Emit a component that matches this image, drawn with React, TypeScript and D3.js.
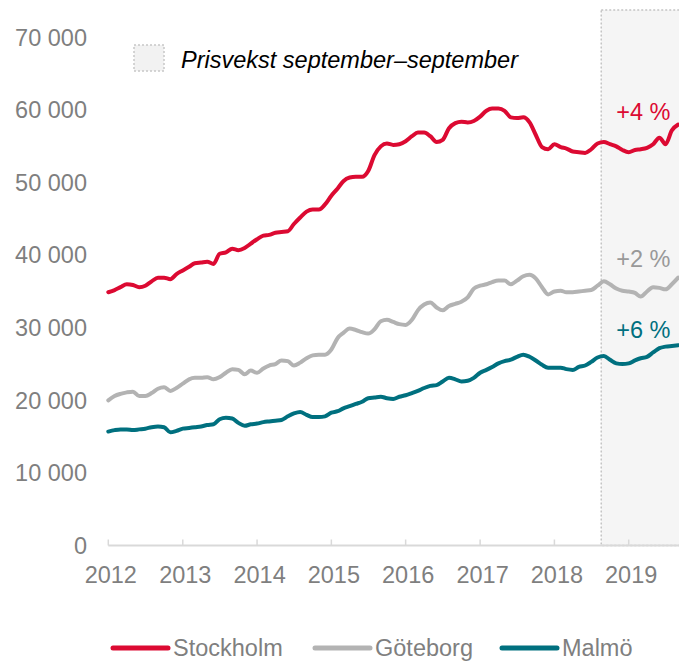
import React from 'react';
import * as d3 from 'd3';

// Kvadratmeterpris bostadsrätter, monthly Jan 2012 – Sep 2019 (kr/m²)
const stockholm = [
  34900, 35200, 35600, 36000, 35900, 35600, 35800, 36400, 36900, 36900, 36700, 37400,
  37900, 38400, 38900, 39000, 39100, 38800, 40200, 40400, 40900, 40700, 41000, 41600,
  42200, 42700, 42800, 43100, 43200, 43300, 44300, 45200, 46000, 46300, 46300, 47000,
  48200, 49200, 50200, 50700, 50800, 50800, 51600, 53800, 55000, 55400, 55200, 55300,
  55700, 56400, 56900, 56900, 56400, 55600, 55900, 57500, 58200, 58400, 58300, 58500,
  59100, 59900, 60200, 60200, 59900, 59000, 58900, 59000, 58300, 56600, 54900, 54600,
  55300, 54900, 54700, 54300, 54200, 54100, 54600, 55400, 55600, 55300, 55000, 54500,
  54200, 54500, 54600, 54800, 55300, 56200, 55300, 57200, 58000,
];
const goteborg = [
  20000, 20600, 20900, 21100, 21200, 20600, 20600, 21000, 21600, 21800, 21300, 21700,
  22300, 22900, 23100, 23100, 23200, 22900, 23200, 23800, 24300, 24200, 23600, 24100,
  23800, 24400, 24800, 25000, 25500, 25400, 24800, 25200, 25800, 26200, 26300, 26300,
  27000, 28600, 29300, 29900, 29700, 29400, 29200, 29800, 30900, 31100, 30800, 30500,
  30400, 31100, 32400, 33200, 33500, 32800, 32400, 33000, 33300, 33600, 34200, 35400,
  35800, 36000, 36300, 36500, 36500, 36000, 36500, 37100, 37300, 36800, 35600, 34600,
  35000, 35100, 34900, 34900, 35000, 35100, 35200, 35800, 36400, 36000, 35400, 35100,
  35000, 34800, 34300, 35000, 35600, 35500, 35300, 36000, 36900,
];
const malmo = [
  15700, 15900, 16000, 16000, 15900, 16000, 16100, 16300, 16400, 16300, 15600, 15800,
  16100, 16200, 16300, 16400, 16600, 16700, 17400, 17600, 17500, 16900, 16500, 16700,
  16800, 17000, 17100, 17200, 17300, 17800, 18200, 18400, 18000, 17700, 17700, 17800,
  18300, 18500, 18900, 19200, 19500, 19800, 20300, 20400, 20500, 20300, 20200, 20500,
  20700, 21000, 21300, 21700, 22000, 22100, 22600, 23100, 22900, 22600, 22700, 23100,
  23800, 24200, 24600, 25100, 25400, 25600, 26000, 26300, 26000, 25500, 24900, 24500,
  24500, 24500, 24300, 24200, 24600, 24800, 25300, 25900, 26100, 25600, 25100, 25000,
  25100, 25500, 25800, 26000, 26600, 27200, 27400, 27500, 27600,
];

const cities = ['Stockholm', 'Göteborg', 'Malmö'];
const changeLabels = ['+4 %', '+2 %', '+6 %'];
const changeLabelValues = [58700, 38400, 28600];
const yTicks = [0, 10000, 20000, 30000, 40000, 50000, 60000, 70000];
const years = [2012, 2013, 2014, 2015, 2016, 2017, 2018, 2019];
const shadeLabel = 'Prisvekst september–september';

const colors = ['#DC0A32', '#B3B3B3', '#00707F'];
const labelColor = '#7F7F7F';
const font = "'Liberation Sans', Arial, sans-serif";

const W = 679;
const H = 662;

export default function App() {
  const months = d3.timeMonth.range(new Date(2012, 0, 1), new Date(2019, 9, 1));
  const series = [stockholm, goteborg, malmo];

  const x = d3.scaleTime()
    .domain([new Date(2012, 0, 1), new Date(2019, 0, 1)])
    .range([108.3, 628.7]);
  const y = d3.scaleLinear().domain([0, 70000]).range([545.5, 37.5]);

  const fmt = d3.formatLocale({ decimal: ',', thousands: ' ', grouping: [3], currency: ['', ''] }).format(',');

  const line = d3.line<number>()
    .x((_, i) => x(months[i]))
    .y(d => y(d))
    .curve(d3.curveMonotoneX);

  const shadeX = x(new Date(2018, 7, 19));

  const legendX = [113, 315, 502];

  return (
    <svg width={W} height={H} style={{ position: 'absolute', left: 0, top: 0 }} fontFamily={font}>
      {/* september–september shading */}
      <rect x={shadeX} y={10} width={W - shadeX + 10} height={y(0) - 10}
        fill="#F5F5F5" stroke="#C4C4C4" strokeWidth={1.5} strokeDasharray="2,2" />

      {/* y labels */}
      {yTicks.map(t => (
        <text key={t} x={87} y={y(t)} dy="0.35em" textAnchor="end" fontSize={23.5} fill={labelColor}>
          {fmt(t)}
        </text>
      ))}

      {/* x axis */}
      <line x1={x(new Date(2012, 0, 1))} x2={W} y1={y(0)} y2={y(0)} stroke="#D9D9D9" strokeWidth={2} />
      {years.map(yr => {
        const px = x(new Date(yr, 0, 1));
        return (
          <g key={yr}>
            <line x1={px} x2={px} y1={y(0)} y2={y(0) - 6} stroke="#D9D9D9" strokeWidth={1.5} />
            <text x={px + 2.5} y={575} dy="0.35em" textAnchor="middle" fontSize={23.5} fill={labelColor}>
              {yr}
            </text>
          </g>
        );
      })}

      {/* lines */}
      {series.map((s, k) => (
        <path key={cities[k]} d={line(s) || ''} fill="none" stroke={colors[k]} strokeWidth={4}
          strokeLinejoin="round" strokeLinecap="round" />
      ))}

      {/* change labels */}
      {changeLabels.map((l, k) => (
        <text key={l} x={shadeX + 15} y={y(changeLabelValues[k])} fontSize={23.5} fill={colors[k] === '#B3B3B3' ? '#999999' : colors[k]}>
          {l}
        </text>
      ))}

      {/* shading legend */}
      <rect x={134} y={45} width={30} height={26} fill="#F2F2F2" stroke="#C8C8C8" strokeWidth={1.5} strokeDasharray="2,2" />
      <text x={181} y={68} fontSize={23.5} fontStyle="italic" fill="#000">{shadeLabel}</text>

      {/* series legend */}
      {cities.map((c, k) => (
        <g key={c} transform={`translate(${legendX[k]},648)`}>
          <line x1={0} x2={55} y1={0} y2={0} stroke={colors[k]} strokeWidth={5} strokeLinecap="round" />
          <text x={60} y={0} dy="0.35em" fontSize={23.5} fill={labelColor}>{c}</text>
        </g>
      ))}
    </svg>
  );
}
